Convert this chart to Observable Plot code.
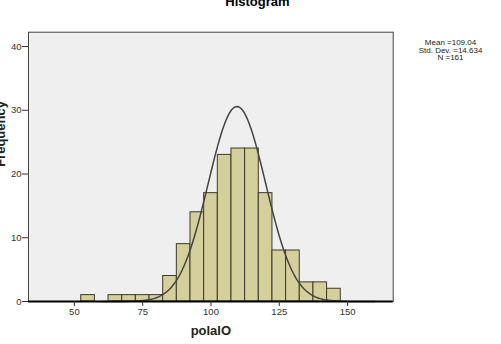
<!DOCTYPE html>
<html><head><meta charset="utf-8">
<script src="https://cdn.jsdelivr.net/npm/d3@7"></script>
<script src="https://cdn.jsdelivr.net/npm/@observablehq/plot@0.6"></script>
<style>body{margin:0;background:#fff;overflow:hidden}</style>
</head><body><div id="chart"></div>
<script>
// Histogram bins (lower edges) and counts
const binLower = [52.5, 62.5, 67.5, 72.5, 77.5, 82.5, 87.5, 92.5, 97.5, 102.5, 107.5, 112.5, 117.5, 122.5, 127.5, 132.5, 137.5, 142.5];
const counts   = [1, 1, 1, 1, 1, 4, 9, 14, 17, 23, 24, 24, 17, 8, 8, 3, 3, 2];
const binWidth = 5;
const xTicks = [50, 75, 100, 125, 150];
const yTicks = [0, 10, 20, 30, 40];
const statsLines = ["Mean =109.04", "Std. Dev. =14.634", "N =161"];
const titleText = "Histogram";
const xLabel = "polalO";
const yLabel = "Frequency";
// fitted normal curve as drawn
const curveMean = 109.5, curveSd = 10.5, nTotal = 161;

const bins = binLower.map((x, i) => ({x1: x, x2: x + binWidth, y: counts[i]}));
const curvePts = d3.range(60, 160.01, 0.5).map(x => ({
  x,
  y: nTotal * binWidth / (curveSd * Math.sqrt(2 * Math.PI)) * Math.exp(-((x - curveMean) ** 2) / (2 * curveSd * curveSd))
}));

const chart = Plot.plot({
  width: 501,
  height: 344,
  marginLeft: 28,
  marginRight: 108.3,
  marginTop: 31.7,
  marginBottom: 43,
  style: {fontFamily: "Arial, 'Liberation Sans', sans-serif", fontSize: "9.5px", color: "#333", background: "#fff"},
  x: {domain: [33.2, 166.7]},
  y: {domain: [0, 42.25]},
  marks: [
    Plot.frame({fill: "#efefef"}),
    Plot.rectY(bins, {x1: "x1", x2: "x2", y: "y", fill: "#d4cf9b", stroke: "#3c3a2c", strokeWidth: 1}),
    Plot.line(curvePts, {x: "x", y: "y", stroke: "#444", strokeWidth: 1.5}),
    Plot.frame({stroke: "#444", strokeWidth: 1}),
    Plot.ruleY([0], {stroke: "#000", strokeWidth: 2}),
    Plot.axisX({ticks: xTicks, tickSize: 5, tickPadding: 2, label: null, stroke: "#333"}),
    Plot.axisY({ticks: yTicks, tickSize: 6, tickPadding: 1, label: null, stroke: "#333"}),
    Plot.text([titleText], {text: d => d, frameAnchor: "top", dx: 46.6, dy: -26.7, lineAnchor: "bottom", fontWeight: "bold", fontSize: 13, fill: "#000"}),
    Plot.text([xLabel], {text: d => d, frameAnchor: "bottom", dy: 33, lineAnchor: "bottom", fontWeight: "bold", fontSize: 13, fill: "#222"}),
    Plot.text([yLabel], {text: d => d, frameAnchor: "left", dx: -23.5, rotate: -90, lineAnchor: "bottom", fontWeight: "bold", fontSize: 13, fill: "#222"}),
    Plot.text([statsLines.join("\n")], {text: d => d, frameAnchor: "top-right", dx: 57.3, dy: 18.3, textAnchor: "middle", lineAnchor: "middle", lineHeight: 0.94, fontSize: 8, fill: "#222"})
  ]
});
document.getElementById("chart").appendChild(chart);
</script>
</body></html>
